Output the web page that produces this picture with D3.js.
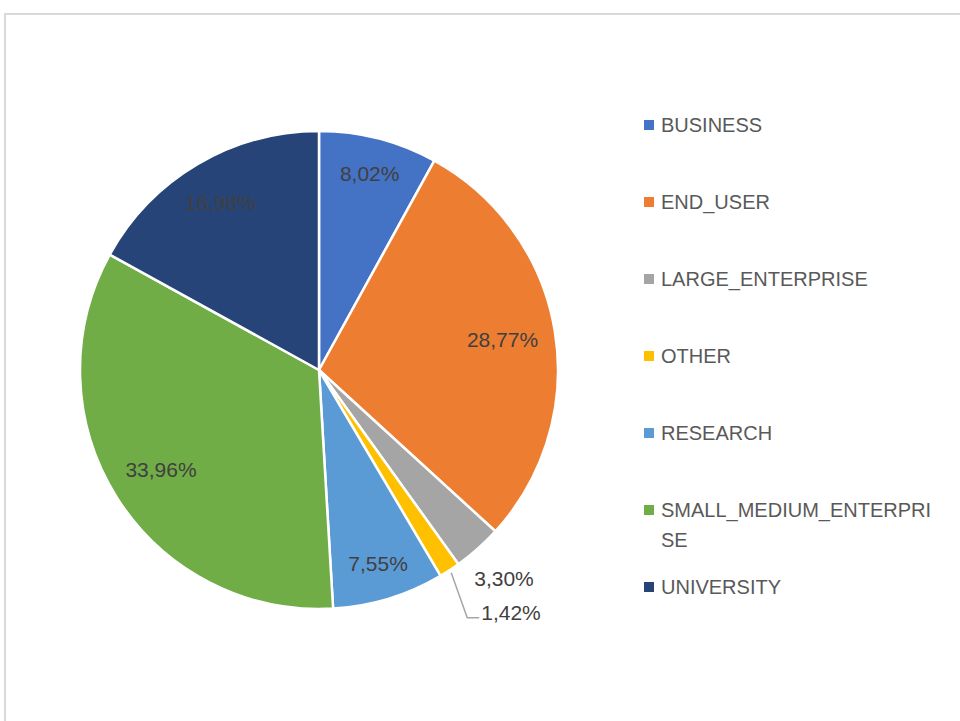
<!DOCTYPE html>
<html><head><meta charset="utf-8">
<script src="https://cdn.jsdelivr.net/npm/d3@7"></script>
<style>
html,body{margin:0;padding:0;background:#fff;}
svg{display:block;}
text{font-family:"Liberation Sans",Arial,sans-serif;}
</style></head>
<body>
<svg id="chart" width="960" height="721"></svg>
<script>
const categories = ["BUSINESS","END_USER","LARGE_ENTERPRISE","OTHER","RESEARCH","SMALL_MEDIUM_ENTERPRISE","UNIVERSITY"];
const values = [8.02, 28.77, 3.30, 1.42, 7.55, 33.96, 16.98];
const labels = ["8,02%","28,77%","3,30%","1,42%","7,55%","33,96%","16,98%"];
const colors = ["#4472C4","#ED7D31","#A5A5A5","#FFC000","#5B9BD5","#70AD47","#264478"];

const svg = d3.select("#chart");
svg.append("path")
  .attr("d","M5,721 V14 H960")
  .attr("fill","none").attr("stroke","#d9d9d9").attr("stroke-width",2);

const cx = 319, cy = 370, R = 239;
const data = categories.map((c,i)=>({cat:c, value:values[i], label:labels[i], color:colors[i]}));
const pie = d3.pie().value(d=>d.value).sort(null);
const arcs = pie(data);
const arc = d3.arc().innerRadius(0).outerRadius(R);

const g = svg.append("g").attr("transform",`translate(${cx},${cy})`);
g.selectAll("path.slice").data(arcs).join("path")
  .attr("class","slice")
  .attr("d",arc)
  .attr("fill",d=>d.data.color)
  .attr("stroke","#fff").attr("stroke-width",2.5).attr("stroke-linejoin","round");

function polar(a, r){ return [r*Math.sin(a), -r*Math.cos(a)]; }
function cornerDist(a, t, hw, hh, far){
  const [px,py] = polar(a,t);
  const ds = [[hw,hh],[hw,-hh],[-hw,hh],[-hw,-hh]].map(([ox,oy])=>Math.hypot(px+ox,py+oy));
  return far ? Math.max(...ds) : Math.min(...ds);
}
function solveT(a, hw, hh, target, far){
  let lo=0, hi=2*R;
  for(let k=0;k<60;k++){ const m=(lo+hi)/2; if(cornerDist(a,m,hw,hh,far)<target) lo=m; else hi=m; }
  return (lo+hi)/2;
}

arcs.forEach(d=>{
  const mid = (d.startAngle+d.endAngle)/2;
  const share = d.data.value/100;
  const t = g.append("text")
    .attr("text-anchor","middle").attr("dominant-baseline","central")
    .attr("font-size",21).attr("fill","#404040")
    .text(d.data.label);
  const hw = t.node().getComputedTextLength()/2, hh = 11;
  let x,y;
  if (share >= 0.05) {
    [x,y] = polar(mid, solveT(mid, hw, hh, R-16, true));
  } else if (share >= 0.02) {
    [x,y] = polar(mid, solveT(mid, hw, hh, R+12, false));
  } else {
    const p0 = polar(mid, R+3);
    const elbow = [p0[0]+16, p0[1]+45];
    const end = [elbow[0]+12, elbow[1]];
    g.append("polyline")
      .attr("points",[p0,elbow,end].map(p=>p.join(",")).join(" "))
      .attr("fill","none").attr("stroke","#a6a6a6").attr("stroke-width",1.5);
    x = end[0]+2+hw; y = end[1]-5;
  }
  t.attr("x",x).attr("y",y);
});

// legend
const legX = 644, legY0 = 125, legStep = 77, maxW = 275;
const leg = svg.append("g");
data.forEach((d,i)=>{
  const y = legY0 + i*legStep;
  leg.append("rect").attr("x",legX).attr("y",y-5).attr("width",10).attr("height",10).attr("fill",d.color);
  const t = leg.append("text").attr("x",legX+17).attr("y",y)
    .attr("dominant-baseline","central").attr("font-size",20).attr("fill","#595959");
  const full = d.cat;
  let line = "", lines = [];
  const probe = t.append("tspan");
  for (const ch of full) {
    probe.text(line+ch);
    if (probe.node().getComputedTextLength() > maxW && line.length) { lines.push(line); line = ch; }
    else line += ch;
  }
  lines.push(line);
  probe.remove();
  lines.forEach((l,k)=>{
    t.append("tspan").attr("x",legX+17).attr("dy",k===0?0:30).text(l);
  });
});
</script>
</body></html>
